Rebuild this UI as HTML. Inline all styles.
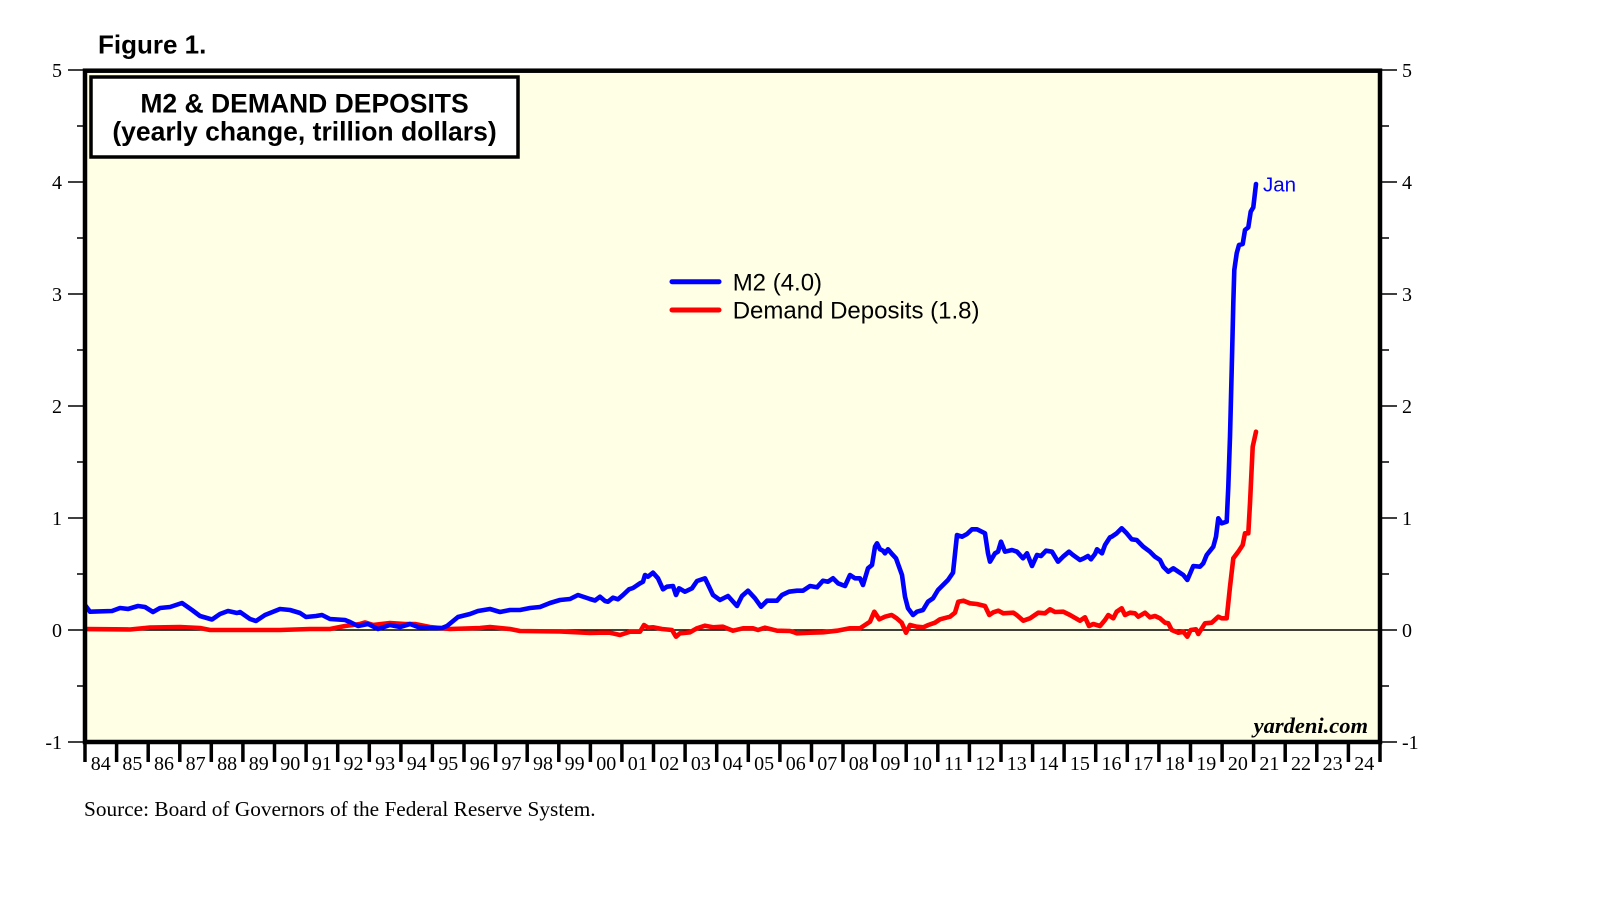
<!DOCTYPE html>
<html>
<head>
<meta charset="utf-8">
<style>
  html, body { margin:0; padding:0; background:#ffffff; }
  body { width:1610px; height:910px; overflow:hidden; }
  svg { display:block; }
  .sans { font-family: "Liberation Sans", Arial, sans-serif; }
  .serif { font-family: "Liberation Serif", "Times New Roman", serif; }
</style>
</head>
<body>
<svg width="1610" height="910" viewBox="0 0 1610 910" xmlns="http://www.w3.org/2000/svg">
  <defs>
    <clipPath id="plotclip">
      <rect x="87" y="73" width="1291" height="667"/>
    </clipPath>
  </defs>

  <!-- Figure label -->
  <text x="98" y="53.3" class="sans" font-size="26" font-weight="bold" fill="#000">Figure 1.</text>

  <!-- Plot background -->
  <rect x="85" y="70.7" width="1295" height="671.3" fill="#FFFFE5" stroke="none"/>

  <!-- zero line -->
  <line x1="85" y1="630" x2="1380" y2="630" stroke="#000" stroke-width="1.5"/>

  <!-- Series -->
  <g clip-path="url(#plotclip)" fill="none" stroke-linejoin="round" stroke-linecap="round">
    <polyline stroke="#FF0000" stroke-width="4.6" points="
85,629 130,629.5 150,627.5 180,627 200,628 210,630 240,630 280,630 310,629 330,629 345,626 360,624 365,622.5 373,625 390,623 405,624 415,624 430,627 450,629 480,628 490,627 510,629 520,631 560,631.5 590,633
600,632.7 610,632.7 620,635 630,631.7 640,631.7 644,625 648,627.7 653,627.3 662,629 672,630 676,636.7 680,633.3 690,632.3 697,628.3 705,625.7 713,627.3 723,626.7 733,630.7 743,628.3 753,628.3 758,630 765,627.7 777,630.7 790,631 797,633.3 810,632.7 823,632.3 837,630.7 850,628.3 860,628.3 865,625 870,621.7 874.3,611.7 879.3,619.3 885,616.7 891.7,615 896.7,618.3 901.7,622.7 906,632.7 910,625 916.7,626.7 923.3,627.3 928.3,625 935,622.7 940,619.3 950,616.7 955,612.7 958.3,601.7 963.3,600.7 970,603.3 976.7,604 985,606 989.3,615 993.3,612.3 998.3,610.7 1003.3,613.3 1013.3,612.7 1016.7,615 1023.3,620.7 1030,618.3 1038.3,612.7 1045,613.3 1050,609.3 1055,612 1063.3,611.7 1070,615 1080,620.7 1085,617.3 1089,626 1093.3,624 1100,626 1105,620 1108.3,615
1113.3,618.3 1116.7,611.7 1121.7,608.3 1125,615 1130,612.7 1135,613.3 1138.3,616.7 1145,612.7 1150,617.3 1155,616 1160,618.3 1165,622.7 1168.3,623.3 1171.7,630 1178.3,632.7 1183.3,631.7 1187.3,636.7 1190.7,630 1196,629.3 1198.3,634 1205,623.3 1211.7,622.7 1218.3,616.7 1221.7,618.3 1226.7,618.3 1230,586.7 1233.3,558.3 1238.3,551.7 1242.7,545 1245,533.3 1248.3,533.3 1250,503.3 1252.7,446.7 1256,431.7"/>
    <polyline stroke="#0000FF" stroke-width="4.6" points="
85,605 90,611.7 112,611 120,608 128,609 138,606 145,607 153,612 160,608 170,607 182,603 192,610 200,616 212,619.5 220,614 228,611 237,613 240,612 250,619 256,621 265,615 280,609 290,610 300,613 306,617 316,616 322,615 330,619 345,620 350,622 358,626 368,624 378,629 390,625 400,627 410,624 418,627 430,628 442,628 447,626 458,617 470,614 478,611 490,609 500,612 510,610 520,610 530,608 540,607 550,603 560,600 570,599 578,595 590,599
595,600.5 600,596.7 605,601 608,601.7 613,597.7 618,599.3 623,595 629,589.3 633,588 640,583.3 643,581.7 645,575 648,576.7 653,572.7 658,578.3 663,589.3 667,586.7 673,586 676,595 679,588.3 685,591.7 692,588.3 697,581 705,578.3 713,595 720,600 728,596 737,606 742,596 748,590.7 755,598.3 761,606.7 767,600.7 777,600.7 782,595 789,591.7 797,590.7 803,590.7 810,586 817,587.3 823,580.7 828,581.7 833,578.3 838,583.3 845,586 850,575 855,578.3 860,578.3 863,585 868,568.3 872,565 875,546.7 877,543.3 880,549.3 883,550.7 885,553.3 888,549.3 892,554 896,558.3 902,575 905,596.7 908,608.3 913,615 917,611.7 923,610 928,601.7 933,598.3 938,590 943,585 948,580 953,572.7 957,535 962,536.7 967,534 972,529.3 977,529.3 985,533.3 988,553.3 990,561.7 995,553.3 998,551.7 1001,541.7 1005,551.7 1012,550 1017,551.7 1023,558.3 1027,553.3 1032,566 1037,555 1041,556 1046,550.7 1052,551.7 1058,561.7 1063,556.7 1069,551.7 1073,555 1080,560 1084,558.3 1088,556 1091,559.3 1095,554 1097,549.3 1102,553.3 1105,545 1110,537.3
1111.7,536.7 1116.7,533.3 1121.7,528.3 1126.7,533.3 1131.7,539.3 1136.7,540 1143.3,546.7 1150,551.7 1155,556.7 1160,560 1163.3,566.7 1168.3,571.7 1173.3,568.3 1178.3,571.7 1183.3,575 1187.3,580 1193.3,566 1200,566.7 1203.3,563.3 1206.7,555 1213.3,546.7 1216,536.7 1218.3,518.3 1221.7,523.3 1226.7,521.7 1228.3,486.7 1230,436.7 1231.7,370 1233.3,303.3 1234.3,270 1236.7,253.3 1239,245 1242.7,244 1245,230 1248.3,227.3 1250.7,211.7 1253.3,207.3 1256,184"/>
  </g>

  <!-- Jan label -->
  <text x="1263" y="191.7" class="sans" font-size="20.5" fill="#0000FF">Jan</text>

  <!-- Legend -->
  <line x1="672" y1="281.7" x2="719" y2="281.7" stroke="#0000FF" stroke-width="5" stroke-linecap="round"/>
  <line x1="672" y1="310" x2="719" y2="310" stroke="#FF0000" stroke-width="5" stroke-linecap="round"/>
  <text x="732.7" y="290.7" class="sans" font-size="24" fill="#000">M2 (4.0)</text>
  <text x="732.7" y="318.5" class="sans" font-size="24" fill="#000">Demand Deposits (1.8)</text>

  <!-- Title box -->
  <rect x="91" y="77" width="427" height="80" fill="#ffffff" stroke="#000" stroke-width="3.5"/>
  <text x="304.5" y="112.7" class="sans" font-size="26.5" font-weight="bold" text-anchor="middle" fill="#000">M2 &amp; DEMAND DEPOSITS</text>
  <text x="304.5" y="140.3" class="sans" font-size="26.5" font-weight="bold" text-anchor="middle" fill="#000">(yearly change, trillion dollars)</text>

  <!-- yardeni.com -->
  <text x="1368" y="733" class="serif" font-size="22.5" font-weight="bold" font-style="italic" text-anchor="end" fill="#000">yardeni.com</text>

  <!-- Plot frame -->
  <rect x="85" y="70.7" width="1295" height="671.3" fill="none" stroke="#000" stroke-width="4.5"/>

  <!-- Y ticks left & right -->
  <g stroke="#000" stroke-width="1.5">
    <line x1="68" y1="70" x2="83" y2="70"/>
    <line x1="68" y1="182" x2="83" y2="182"/>
    <line x1="68" y1="294" x2="83" y2="294"/>
    <line x1="68" y1="406" x2="83" y2="406"/>
    <line x1="68" y1="518" x2="83" y2="518"/>
    <line x1="68" y1="630" x2="83" y2="630"/>
    <line x1="68" y1="742" x2="83" y2="742"/>
    <line x1="77" y1="126" x2="83" y2="126"/>
    <line x1="77" y1="238" x2="83" y2="238"/>
    <line x1="77" y1="350" x2="83" y2="350"/>
    <line x1="77" y1="462" x2="83" y2="462"/>
    <line x1="77" y1="574" x2="83" y2="574"/>
    <line x1="77" y1="686" x2="83" y2="686"/>

    <line x1="1382" y1="70" x2="1397" y2="70"/>
    <line x1="1382" y1="182" x2="1397" y2="182"/>
    <line x1="1382" y1="294" x2="1397" y2="294"/>
    <line x1="1382" y1="406" x2="1397" y2="406"/>
    <line x1="1382" y1="518" x2="1397" y2="518"/>
    <line x1="1382" y1="630" x2="1397" y2="630"/>
    <line x1="1382" y1="742" x2="1397" y2="742"/>
    <line x1="1382" y1="126" x2="1389" y2="126"/>
    <line x1="1382" y1="238" x2="1389" y2="238"/>
    <line x1="1382" y1="350" x2="1389" y2="350"/>
    <line x1="1382" y1="462" x2="1389" y2="462"/>
    <line x1="1382" y1="574" x2="1389" y2="574"/>
    <line x1="1382" y1="686" x2="1389" y2="686"/>
  </g>

  <!-- Y labels -->
  <g class="serif" font-size="20" fill="#000">
    <g text-anchor="end">
      <text x="62" y="77">5</text>
      <text x="62" y="189">4</text>
      <text x="62" y="301">3</text>
      <text x="62" y="413">2</text>
      <text x="62" y="525">1</text>
      <text x="62" y="637">0</text>
      <text x="62" y="749">-1</text>
    </g>
    <g text-anchor="start">
      <text x="1402" y="77">5</text>
      <text x="1402" y="189">4</text>
      <text x="1402" y="301">3</text>
      <text x="1402" y="413">2</text>
      <text x="1402" y="525">1</text>
      <text x="1402" y="637">0</text>
      <text x="1402" y="749">-1</text>
    </g>
  </g>

  <!-- X ticks -->
  <g stroke="#000" stroke-width="3.5">
    <line x1="85" y1="742" x2="85" y2="762"/>
    <line x1="116.6" y1="742" x2="116.6" y2="762"/>
    <line x1="148.2" y1="742" x2="148.2" y2="762"/>
    <line x1="179.8" y1="742" x2="179.8" y2="762"/>
    <line x1="211.3" y1="742" x2="211.3" y2="762"/>
    <line x1="242.9" y1="742" x2="242.9" y2="762"/>
    <line x1="274.5" y1="742" x2="274.5" y2="762"/>
    <line x1="306.1" y1="742" x2="306.1" y2="762"/>
    <line x1="337.7" y1="742" x2="337.7" y2="762"/>
    <line x1="369.3" y1="742" x2="369.3" y2="762"/>
    <line x1="400.9" y1="742" x2="400.9" y2="762"/>
    <line x1="432.4" y1="742" x2="432.4" y2="762"/>
    <line x1="464.0" y1="742" x2="464.0" y2="762"/>
    <line x1="495.6" y1="742" x2="495.6" y2="762"/>
    <line x1="527.2" y1="742" x2="527.2" y2="762"/>
    <line x1="558.8" y1="742" x2="558.8" y2="762"/>
    <line x1="590.4" y1="742" x2="590.4" y2="762"/>
    <line x1="621.9" y1="742" x2="621.9" y2="762"/>
    <line x1="653.5" y1="742" x2="653.5" y2="762"/>
    <line x1="685.1" y1="742" x2="685.1" y2="762"/>
    <line x1="716.7" y1="742" x2="716.7" y2="762"/>
    <line x1="748.3" y1="742" x2="748.3" y2="762"/>
    <line x1="779.9" y1="742" x2="779.9" y2="762"/>
    <line x1="811.5" y1="742" x2="811.5" y2="762"/>
    <line x1="843.0" y1="742" x2="843.0" y2="762"/>
    <line x1="874.6" y1="742" x2="874.6" y2="762"/>
    <line x1="906.2" y1="742" x2="906.2" y2="762"/>
    <line x1="937.8" y1="742" x2="937.8" y2="762"/>
    <line x1="969.4" y1="742" x2="969.4" y2="762"/>
    <line x1="1001.0" y1="742" x2="1001.0" y2="762"/>
    <line x1="1032.6" y1="742" x2="1032.6" y2="762"/>
    <line x1="1064.1" y1="742" x2="1064.1" y2="762"/>
    <line x1="1095.7" y1="742" x2="1095.7" y2="762"/>
    <line x1="1127.3" y1="742" x2="1127.3" y2="762"/>
    <line x1="1158.9" y1="742" x2="1158.9" y2="762"/>
    <line x1="1190.5" y1="742" x2="1190.5" y2="762"/>
    <line x1="1222.1" y1="742" x2="1222.1" y2="762"/>
    <line x1="1253.6" y1="742" x2="1253.6" y2="762"/>
    <line x1="1285.2" y1="742" x2="1285.2" y2="762"/>
    <line x1="1316.8" y1="742" x2="1316.8" y2="762"/>
    <line x1="1348.4" y1="742" x2="1348.4" y2="762"/>
    <line x1="1380" y1="742" x2="1380" y2="762"/>
  </g>

  <!-- X labels -->
  <g class="serif" font-size="20" fill="#000" text-anchor="middle">
    <text x="100.8" y="770">84</text>
    <text x="132.4" y="770">85</text>
    <text x="164.0" y="770">86</text>
    <text x="195.6" y="770">87</text>
    <text x="227.1" y="770">88</text>
    <text x="258.7" y="770">89</text>
    <text x="290.3" y="770">90</text>
    <text x="321.9" y="770">91</text>
    <text x="353.5" y="770">92</text>
    <text x="385.1" y="770">93</text>
    <text x="416.7" y="770">94</text>
    <text x="448.2" y="770">95</text>
    <text x="479.8" y="770">96</text>
    <text x="511.4" y="770">97</text>
    <text x="543.0" y="770">98</text>
    <text x="574.6" y="770">99</text>
    <text x="606.2" y="770">00</text>
    <text x="637.7" y="770">01</text>
    <text x="669.3" y="770">02</text>
    <text x="700.9" y="770">03</text>
    <text x="732.5" y="770">04</text>
    <text x="764.1" y="770">05</text>
    <text x="795.7" y="770">06</text>
    <text x="827.3" y="770">07</text>
    <text x="858.8" y="770">08</text>
    <text x="890.4" y="770">09</text>
    <text x="922.0" y="770">10</text>
    <text x="953.6" y="770">11</text>
    <text x="985.2" y="770">12</text>
    <text x="1016.8" y="770">13</text>
    <text x="1048.4" y="770">14</text>
    <text x="1079.9" y="770">15</text>
    <text x="1111.5" y="770">16</text>
    <text x="1143.1" y="770">17</text>
    <text x="1174.7" y="770">18</text>
    <text x="1206.3" y="770">19</text>
    <text x="1237.9" y="770">20</text>
    <text x="1269.4" y="770">21</text>
    <text x="1301.0" y="770">22</text>
    <text x="1332.6" y="770">23</text>
    <text x="1364.2" y="770">24</text>
  </g>

  <!-- Source -->
  <text x="84" y="816" class="serif" font-size="21.3" fill="#000">Source: Board of Governors of the Federal Reserve System.</text>
</svg>
</body>
</html>
